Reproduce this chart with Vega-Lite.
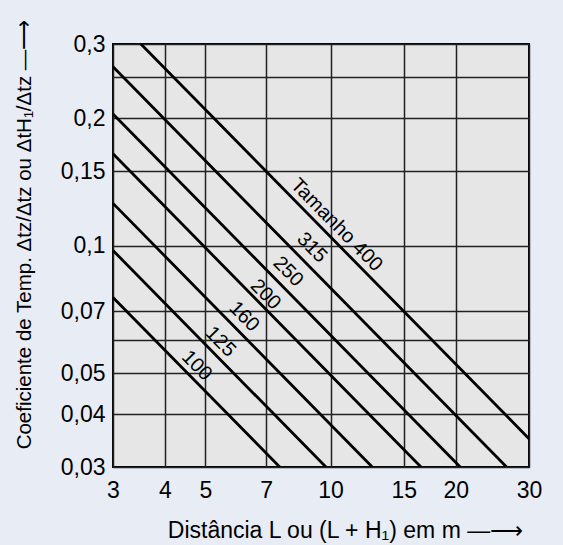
{
  "$schema": "https://vega.github.io/schema/vega-lite/v6.json",
  "width": 416,
  "height": 423,
  "autosize": "none",
  "padding": {"left": 113, "top": 44, "right": 34, "bottom": 78},
  "background": "#e8ecf5",
  "datasets": {
    "curves": [
      {"tamanho": "400", "dist": 3.5, "coef": 0.3},
      {"tamanho": "400", "dist": 30, "coef": 0.035},
      {"tamanho": "315", "dist": 3, "coef": 0.265},
      {"tamanho": "315", "dist": 26.5, "coef": 0.03},
      {"tamanho": "250", "dist": 3, "coef": 0.205},
      {"tamanho": "250", "dist": 20.5, "coef": 0.03},
      {"tamanho": "200", "dist": 3, "coef": 0.165},
      {"tamanho": "200", "dist": 16.5, "coef": 0.03},
      {"tamanho": "160", "dist": 3, "coef": 0.126},
      {"tamanho": "160", "dist": 12.6, "coef": 0.03},
      {"tamanho": "125", "dist": 3, "coef": 0.0975},
      {"tamanho": "125", "dist": 9.75, "coef": 0.03},
      {"tamanho": "100", "dist": 3, "coef": 0.0755},
      {"tamanho": "100", "dist": 7.55, "coef": 0.03}
    ],
    "labels": [
      {"label": "Tamanho 400", "dist": 10.34, "coef": 0.112},
      {"label": "315", "dist": 9.02, "coef": 0.099},
      {"label": "250", "dist": 7.91, "coef": 0.0869},
      {"label": "200", "dist": 6.98, "coef": 0.0767},
      {"label": "160", "dist": 6.2, "coef": 0.068},
      {"label": "125", "dist": 5.44, "coef": 0.0593},
      {"label": "100", "dist": 4.77, "coef": 0.0521}
    ]
  },
  "layer": [
    {
      "data": {"name": "curves"},
      "mark": {"type": "line", "color": "black", "strokeWidth": 2.8, "clip": true},
      "encoding": {
        "x": {
          "field": "dist", "type": "quantitative",
          "scale": {"type": "log", "domain": [3, 30], "nice": false},
          "axis": {
            "values": [3, 4, 5, 7, 10, 15, 20, 30],
            "title": "Distância L ou (L + H₁) em m —⟶",
            "titleX": 232, "titleY": 63, "titleAlign": "center", "titleBaseline": "middle", "titleFontSize": 23,
            "labelPadding": 12, "labelDx": 4
          }
        },
        "y": {
          "field": "coef", "type": "quantitative",
          "scale": {"type": "log", "domain": [0.03, 0.3], "nice": false},
          "axis": {
            "values": [0.03, 0.04, 0.05, 0.06, 0.07, 0.1, 0.15, 0.2, 0.25, 0.3],
            "labelExpr": "datum.value == 0.06 || datum.value == 0.25 ? '' : replace(toString(datum.value), '.', ',')",
            "title": "Coeficiente de Temp. Δtz/Δtz ou ΔtH₁/Δtz —⟶",
            "titleX": -89, "titleY": 190, "titleAlign": "center", "titleBaseline": "middle", "titleAngle": -90, "titleFontSize": 20.5,
            "labelPadding": 8, "labelDy": 3
          }
        },
        "detail": {"field": "tamanho"},
        "order": {"field": "dist", "type": "quantitative"}
      }
    },
    {
      "data": {"name": "labels"},
      "mark": {"type": "text", "angle": 45.5, "fontSize": 20, "font": "Liberation Sans", "color": "black", "align": "center", "baseline": "middle"},
      "encoding": {
        "x": {"field": "dist", "type": "quantitative"},
        "y": {"field": "coef", "type": "quantitative"},
        "text": {"field": "label"}
      }
    }
  ],
  "config": {
    "view": {"stroke": "black", "strokeWidth": 2, "fill": "#e6e6e6"},
    "axis": {
      "domain": false, "ticks": false,
      "grid": true, "gridColor": "#222222", "gridWidth": 1.5, "gridOpacity": 1,
      "labelFont": "Liberation Sans", "labelFontSize": 23, "labelColor": "black",
      "labelOverlap": false, "labelFlush": false,
      "titleFont": "Liberation Sans", "titleFontWeight": "normal", "titleColor": "black"
    }
  }
}
